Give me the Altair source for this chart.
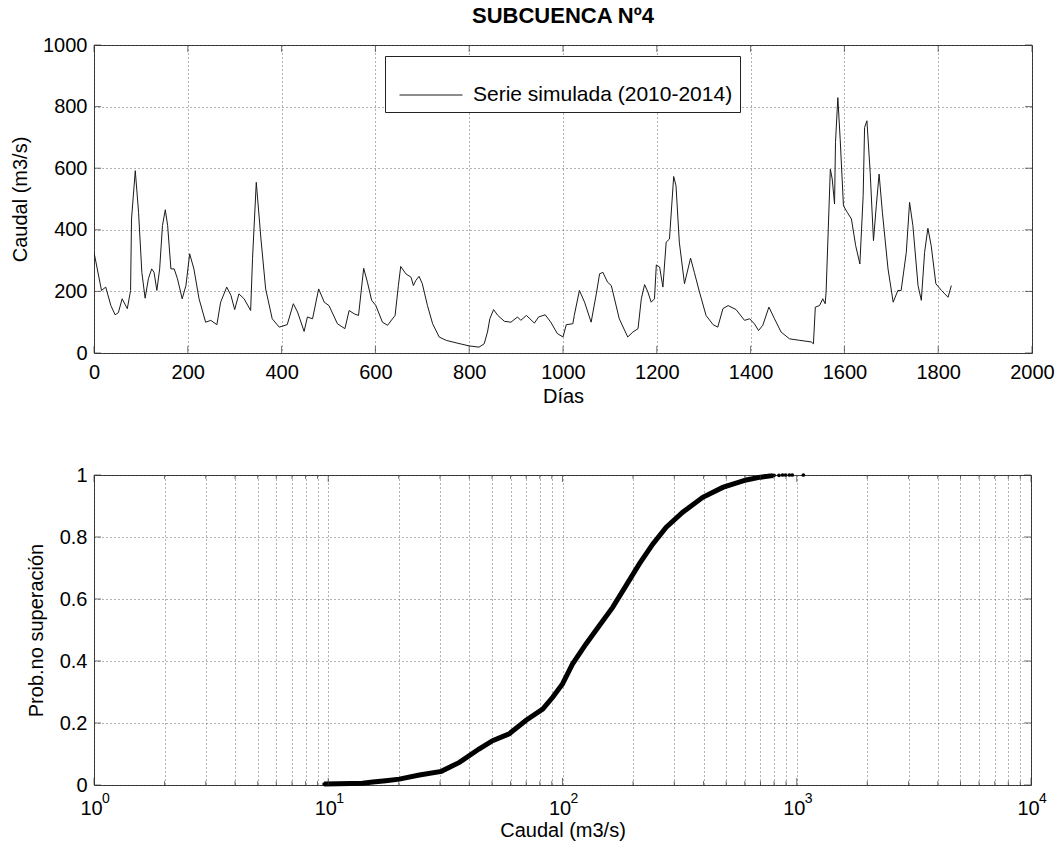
import altair as alt
import pandas as pd

TITLE = "SUBCUENCA Nº4"
SERIES_NAME = "Serie simulada (2010-2014)"
FONT = "Liberation Sans"

# Top panel: simulated daily flow series
days = [0, 16, 25, 36, 45, 52, 60, 71, 78, 80, 88, 95, 102, 109, 116, 123, 128, 134, 140, 146,
        152, 157, 164, 171, 178, 188, 196, 204, 213, 224, 238, 249, 262, 270, 283, 292, 300, 309,
        320, 334, 338, 346, 356, 366, 380, 395, 412, 425, 434, 448, 455, 466, 479, 491, 501, 519,
        535, 544, 555, 564, 575, 583, 592, 601, 615, 626, 642, 649, 654, 665, 676, 681, 686, 693,
        700, 711, 722, 736, 751, 772, 800, 821, 832, 839, 844, 852, 861, 875, 889, 903, 910, 922,
        939, 948, 962, 974, 988, 1000, 1007, 1021, 1024, 1035, 1046, 1060, 1071, 1078, 1085, 1095,
        1103, 1120, 1138, 1149, 1160, 1167, 1174, 1181, 1188, 1195, 1199, 1206, 1213, 1220, 1227,
        1236, 1241, 1248, 1259, 1272, 1280, 1291, 1305, 1320, 1330, 1341, 1352, 1369, 1387, 1398,
        1408, 1417, 1426, 1439, 1451, 1465, 1483, 1505, 1529, 1534, 1538, 1547, 1554, 1559, 1561,
        1570, 1574, 1579, 1581, 1586, 1591, 1598, 1606, 1615, 1624, 1633, 1640, 1643, 1648, 1655,
        1662, 1668, 1674, 1681, 1693, 1704, 1714, 1721, 1732, 1739, 1746, 1757, 1764, 1771, 1778,
        1785, 1795, 1807, 1814, 1821, 1828]
caudal = [327, 203, 214, 154, 124, 131, 176, 144, 203, 435, 592, 457, 262, 178, 241, 273, 262, 203,
          273, 414, 465, 414, 273, 273, 241, 176, 219, 322, 273, 176, 100, 106, 92, 165, 214, 187,
          141, 192, 176, 138, 306, 554, 370, 208, 111, 84, 92, 160, 133, 70, 117, 111, 208, 165,
          154, 95, 79, 138, 127, 122, 275, 230, 171, 154, 100, 90, 122, 219, 281, 257, 246, 219,
          235, 249, 225, 154, 95, 52, 41, 33, 23, 19, 30, 68, 111, 141, 122, 103, 100, 117, 106,
          122, 97, 117, 124, 100, 63, 52, 92, 95, 122, 203, 165, 100, 192, 257, 262, 230, 219, 111,
          52, 68, 79, 176, 222, 198, 165, 176, 286, 279, 214, 360, 370, 573, 543, 360, 225, 308,
          262, 198, 122, 92, 84, 144, 154, 141, 106, 111, 95, 73, 90, 149, 111, 68, 46, 41, 36, 30,
          149, 154, 176, 160, 198, 597, 565, 484, 684, 829, 694, 478, 457, 435, 349, 289, 511, 732,
          754, 586, 365, 478, 581, 457, 273, 165, 203, 203, 327, 489, 414, 219, 171, 327, 405, 349,
          225, 203, 192, 181, 219]

# Bottom panel: non-exceedance probability curve
cdf_q = [9.6, 11, 12.5, 14, 15.5, 17.6, 20.1, 24.5, 30.4, 36.3, 44, 50.3, 59.2, 69.7, 82.3, 90.8,
         100, 110.3, 126, 143.5, 163.7, 186.7, 212.8, 242.7, 276.7, 326, 397, 483, 608, 700, 790]
cdf_p = [0.003, 0.004, 0.005, 0.006, 0.01, 0.014, 0.019, 0.032, 0.044, 0.073, 0.116, 0.143, 0.165,
         0.208, 0.245, 0.283, 0.326, 0.39, 0.455, 0.514, 0.573, 0.643, 0.713, 0.777, 0.831, 0.88,
         0.928, 0.96, 0.984, 0.993, 0.998]
tail_q = [736, 760, 800, 840, 870, 896, 930, 957, 1067]
tail_p = [0.997, 0.998, 0.999, 0.999, 1.0, 1.0, 1.0, 1.0, 1.0]

x_ticks_top = [0, 200, 400, 600, 800, 1000, 1200, 1400, 1600, 1800, 2000]
y_ticks_top = [0, 200, 400, 600, 800, 1000]
log_major = [1, 10, 100, 1000, 10000]
log_exponents = ["0", "1", "2", "3", "4"]
log_ticks = [m * 10 ** e for e in range(4) for m in range(1, 10)] + [10000]
p_ticks = [0, 0.2, 0.4, 0.6, 0.8, 1]

TICK_COLOR = "#333"
grid = dict(grid=True, gridColor="#555", gridDash=[1, 3], gridWidth=1, gridOpacity=0.9)


def inner_ticks(xvals, yvals, xscale, yscale, xlo, xhi, ylo, yhi, size=7):
    """MATLAB-style ticks pointing into the plot on all four sides."""
    xd = pd.DataFrame({"v": xvals})
    yd = pd.DataFrame({"v": yvals})
    half = size / 2
    tick_kw = dict(color=TICK_COLOR, thickness=1, size=size)
    xs = alt.X("v:Q", scale=xscale)
    ys = alt.Y("v:Q", scale=yscale)
    return [
        alt.Chart(xd).mark_tick(orient="vertical", yOffset=-half, **tick_kw).encode(
            x=xs, y=alt.datum(ylo, scale=yscale)),
        alt.Chart(xd).mark_tick(orient="vertical", yOffset=half, **tick_kw).encode(
            x=xs, y=alt.datum(yhi, scale=yscale)),
        alt.Chart(yd).mark_tick(orient="horizontal", xOffset=half, **tick_kw).encode(
            y=ys, x=alt.datum(xlo, scale=xscale)),
        alt.Chart(yd).mark_tick(orient="horizontal", xOffset=-half, **tick_kw).encode(
            y=ys, x=alt.datum(xhi, scale=xscale)),
    ]


# ---------------- top panel ----------------
top_xscale = alt.Scale(domain=[0, 2000], nice=False)
top_yscale = alt.Scale(domain=[0, 1000], nice=False)
top_df = pd.DataFrame({"dia": days, "caudal": caudal, "serie": SERIES_NAME})
series = alt.Chart(top_df).mark_line(strokeWidth=1, clip=True).encode(
    x=alt.X("dia:Q", scale=top_xscale,
            axis=alt.Axis(values=x_ticks_top, title="Días", format="d", labelFlush=False,
                          labelOverlap=False, labelPadding=9, titlePadding=4, **grid)),
    y=alt.Y("caudal:Q", scale=top_yscale,
            axis=alt.Axis(values=y_ticks_top, title="Caudal (m3/s)", format="d", labelFlush=False,
                          labelOverlap=False, labelPadding=7, titlePadding=12, **grid)),
    color=alt.Color("serie:N", scale=alt.Scale(range=["#1a1a1a"]),
                    legend=alt.Legend(orient="none", legendX=291, legendY=11, title=None,
                                      symbolType="stroke", symbolSize=3969, symbolStrokeWidth=1,
                                      labelFontSize=21, labelFont=FONT, labelColor="black",
                                      labelLimit=0, strokeColor="#222", fillColor="white",
                                      padding=7, symbolOffset=7, labelOffset=10)),
)
top = alt.layer(
    series, *inner_ticks(x_ticks_top, y_ticks_top, top_xscale, top_yscale, 0, 2000, 0, 1000)
).properties(width=938, height=308,
             title=alt.TitleParams(TITLE, fontSize=22, font=FONT, fontWeight="bold",
                                   anchor="middle", color="black", offset=7))

# ---------------- bottom panel ----------------
label_expr = ("indexof([1, 10, 100, 1000, 10000], datum.value) >= 0 ? '10' : ''")
bot_xscale = alt.Scale(type="log", domain=[1, 10000], nice=False)
bot_yscale = alt.Scale(domain=[0, 1], nice=False)
xlog = alt.X("q:Q", scale=bot_xscale,
             axis=alt.Axis(values=log_ticks, labelExpr=label_expr, title="Caudal (m3/s)",
                           labelFlush=False, labelOverlap=False, labelPadding=13, labelOffset=-3,
                           titlePadding=2, **grid))
yp = alt.Y("p:Q", scale=bot_yscale,
           axis=alt.Axis(values=p_ticks, format="~g", title="Prob.no superación", labelFlush=False,
                         labelOverlap=False, labelPadding=7, titlePadding=13, **grid))

cdf_df = pd.DataFrame({"q": cdf_q, "p": cdf_p})
tail_df = pd.DataFrame({"q": tail_q, "p": tail_p})
exp_df = pd.DataFrame({"q": log_major, "e": log_exponents})
curve = alt.Chart(cdf_df).mark_line(color="black", strokeWidth=5).encode(x=xlog, y=yp)
dots = alt.Chart(cdf_df).mark_circle(color="black", size=14, opacity=1).encode(x=xlog, y=yp)
tail = alt.Chart(tail_df).mark_circle(color="black", size=14, opacity=1).encode(x=xlog, y=yp)
exps = alt.Chart(exp_df).mark_text(
    align="left", baseline="middle", dx=8, dy=14, fontSize=14, font=FONT, color="black"
).encode(x=alt.X("q:Q", scale=bot_xscale), y=alt.datum(0, scale=bot_yscale), text="e:N")
minor = [v for v in log_ticks if v not in log_major]
bottom = alt.layer(
    curve, dots, tail, exps,
    *inner_ticks(log_major, p_ticks, bot_xscale, bot_yscale, 1, 10000, 0, 1),
    *inner_ticks(minor, [], bot_xscale, bot_yscale, 1, 10000, 0, 1, size=4)[:2],
).properties(width=937, height=310)

chart = alt.vconcat(top, bottom, spacing=57).properties(
    padding={"left": 10, "top": 4, "right": 0, "bottom": 0},
    background="white",
).configure_view(stroke="#333", strokeWidth=1).configure_axis(
    domain=False, ticks=False, labelFont=FONT, titleFont=FONT, labelFontSize=20, titleFontSize=20,
    labelColor="black", titleColor="black", titleFontWeight="normal",
)

chart.save("out.html", embed_options={"renderer": "svg", "actions": False})
